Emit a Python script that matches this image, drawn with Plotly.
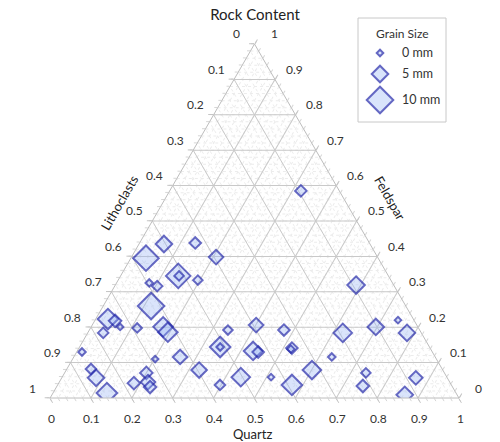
import math
import plotly.graph_objects as go

# ---- data (fractions) ----
feldspar = [0.395, 0.435, 0.438, 0.398, 0.345, 0.345, 0.333, 0.325, 0.316, 0.260,
            0.223, 0.218, 0.201, 0.184, 0.198, 0.201, 0.186, 0.130, 0.116, 0.110,
            0.082, 0.057, 0.014, 0.071, 0.042, 0.045, 0.031, 0.079, 0.144, 0.144,
            0.037, 0.206, 0.192, 0.192, 0.133, 0.130, 0.141, 0.138, 0.116, 0.184,
            0.201, 0.220, 0.184, 0.079, 0.059, 0.037, 0.071, 0.034, 0.057, 0.009,
            0.059, 0.319, 0.585]
lithoclasts = [0.568, 0.504, 0.426, 0.395, 0.514, 0.512, 0.472, 0.595, 0.580, 0.623,
               0.747, 0.732, 0.729, 0.778, 0.688, 0.623, 0.619, 0.857, 0.624, 0.688,
               0.859, 0.859, 0.854, 0.729, 0.774, 0.738, 0.740, 0.596, 0.512, 0.512,
               0.566, 0.393, 0.469, 0.332, 0.437, 0.426, 0.338, 0.342, 0.253, 0.192,
               0.103, 0.039, 0.035, 0.320, 0.430, 0.390, 0.192, 0.218, 0.077, 0.128,
               0.504, 0.092, 0.094]
quartz = [0.037, 0.061, 0.136, 0.207, 0.141, 0.143, 0.195, 0.080, 0.104, 0.117,
          0.030, 0.050, 0.071, 0.038, 0.114, 0.176, 0.195, 0.013, 0.260, 0.202,
          0.059, 0.084, 0.132, 0.200, 0.184, 0.217, 0.229, 0.325, 0.344, 0.344,
          0.397, 0.401, 0.339, 0.476, 0.430, 0.444, 0.521, 0.520, 0.631, 0.624,
          0.697, 0.741, 0.781, 0.601, 0.511, 0.573, 0.737, 0.748, 0.867, 0.864,
          0.437, 0.589, 0.321]
grain_size_mm = [9.5, 5, 2.5, 4, 9, 1.5, 1.5, 0.5, 2, 10,
                 7, 3, 0, 2, 1.5, 6.5, 6.5, 0.5, 4, 0,
                 2, 5, 7, 3, 3, 4, 3, 4.5, 7, 0.5,
                 2, 4, 1.5, 2.5, 6, 2.5, 2.5, 0.5, 0.5, 6,
                 5, 0, 5, 6, 0, 7, 1.5, 3, 3.5, 5,
                 6, 5.5, 2.5]

legend_sizes_mm = [0, 5, 10]
legend_labels = ["0 mm", "5 mm", "10 mm"]

tick_vals = [i / 10 for i in range(11)]
tick_labels = ["0", "0.1", "0.2", "0.3", "0.4", "0.5", "0.6", "0.7", "0.8", "0.9", "1"]


def msize(mm):
    return (6.5 + 2 * mm) / 1.3


FONT = "Lato"
FILL = "rgba(150,180,245,0.5)"
EDGE = "rgb(35,40,170)"
S3 = math.sqrt(3) / 2

fig = go.Figure()

# minor grid subplot (underneath)
fig.add_trace(go.Scatterternary(a=[], b=[], c=[], subplot="ternary",
                                showlegend=False, hoverinfo="skip"))

# data
fig.add_trace(go.Scatterternary(
    a=feldspar, b=lithoclasts, c=quartz, subplot="ternary2",
    mode="markers",
    marker=dict(symbol="diamond", size=[msize(m) for m in grain_size_mm],
                color=FILL, line=dict(color=EDGE, width=2)),
    showlegend=False))

# legend samples
fig.add_trace(go.Scatter(
    x=[22, 22, 22], y=[35, 56, 82], xaxis="x", yaxis="y", mode="markers",
    marker=dict(symbol="diamond", size=[msize(m) for m in legend_sizes_mm],
                color=FILL, line=dict(color=EDGE, width=2)),
    showlegend=False, hoverinfo="skip"))

# overlay frame for tick labels (triangle units)
fig.add_trace(go.Scatter(x=[], y=[], xaxis="x2", yaxis="y2", showlegend=False,
                         hoverinfo="skip"))

dom = dict(x=[0.1, 0.918], y=[0.0995, 0.9005])

minor_axis = dict(min=0, showgrid=True, gridcolor="#ececec", gridwidth=1,
                  griddash="dot", dtick=0.02, showticklabels=False,
                  showline=False, ticks="outside", ticklen=3, tickcolor="#d6d6d6",
                  title=dict(text=""))
major_axis = dict(min=0, showgrid=True, gridcolor="#c9c9c9", gridwidth=1,
                  tickmode="array", tickvals=tick_vals, showticklabels=False,
                  showline=True, linecolor="#bdbdbd", linewidth=1,
                  ticks="outside", ticklen=5, tickcolor="#c4c4c4",
                  title=dict(text=""))

tick_font = dict(family=FONT, size=12, color="#333333")
tick_annots = []
for v, t in zip(tick_vals, tick_labels):
    # Lithoclasts on left side (Q = 0, F = 1 - v)
    f = 1 - v
    tick_annots.append(dict(text=t, xref="x2", yref="y2", x=f / 2, y=f * S3,
                            xshift=-18, yshift=10, showarrow=False,
                            xanchor="center", yanchor="middle", font=tick_font))
    # Feldspar on right side (L = 0, F = v)
    tick_annots.append(dict(text=t, xref="x2", yref="y2", x=1 - v / 2, y=v * S3,
                            xshift=19.5, yshift=10, showarrow=False,
                            xanchor="center", yanchor="middle", font=tick_font))
    # Quartz on bottom (F = 0)
    tick_annots.append(dict(text=t, xref="x2", yref="y2", x=v, y=0,
                            xshift=1, yshift=-20, showarrow=False,
                            xanchor="center", yanchor="middle", font=tick_font))

fig.update_layout(
    width=500, height=442,
    margin=dict(l=0, r=0, t=0, b=0),
    paper_bgcolor="white", plot_bgcolor="rgba(0,0,0,0)",
    font=dict(family=FONT, color="#333333"),
    title=dict(text="Rock Content", x=0.51, xanchor="center", y=0.966,
               yanchor="middle", font=dict(family=FONT, size=15, color="#222222")),
    ternary=dict(domain=dom, bgcolor="rgba(0,0,0,0)", sum=1,
                 aaxis=minor_axis, baxis=minor_axis, caxis=minor_axis),
    ternary2=dict(domain=dom, bgcolor="rgba(0,0,0,0)", sum=1,
                  aaxis=major_axis, baxis=major_axis, caxis=major_axis),
    xaxis=dict(domain=[358 / 500, 446 / 500], range=[0, 88], visible=False,
               fixedrange=True),
    yaxis=dict(domain=[(442 - 122) / 442, (442 - 18) / 442], range=[104, 0],
               visible=False, fixedrange=True),
    xaxis2=dict(domain=dom["x"], range=[0, 1], visible=False, fixedrange=True,
                anchor="y2"),
    yaxis2=dict(domain=dom["y"], range=[0, S3], visible=False, fixedrange=True,
                anchor="x2"),
    shapes=[dict(type="rect", xref="paper", yref="paper",
                 x0=358 / 500, x1=446 / 500, y0=(442 - 122) / 442, y1=(442 - 18) / 442,
                 line=dict(color="#c8c8c8", width=1), fillcolor="rgba(0,0,0,0)")],
    annotations=[
        dict(text="Grain Size", xref="x", yref="y", x=44, y=16, showarrow=False,
             xanchor="center", yanchor="middle", font=dict(family=FONT, size=12, color="#333333")),
    ] + [
        dict(text=lab, xref="x", yref="y", x=42, y=yy, showarrow=False,
             xanchor="left", yanchor="middle", font=dict(family=FONT, size=12.5, color="#333333"))
        for lab, yy in zip(legend_labels, [35, 56, 82])
    ] + tick_annots + [
        dict(text="Lithoclasts", xref="paper", yref="paper", x=0.238, y=0.541,
             xanchor="center", yanchor="middle",
             showarrow=False, textangle=-60, font=dict(family=FONT, size=13, color="#222222")),
        dict(text="Feldspar", xref="paper", yref="paper", x=0.78, y=0.552,
             xanchor="center", yanchor="middle",
             showarrow=False, textangle=60, font=dict(family=FONT, size=13, color="#222222")),
        dict(text="Quartz", xref="paper", yref="paper", x=0.504, y=0.018,
             xanchor="center", yanchor="middle",
             showarrow=False, font=dict(family=FONT, size=13, color="#222222")),
    ],
)

fig.write_html("out.html", config={"displayModeBar": False},
               post_script="document.body.style.margin='0';document.body.style.padding='0';")
